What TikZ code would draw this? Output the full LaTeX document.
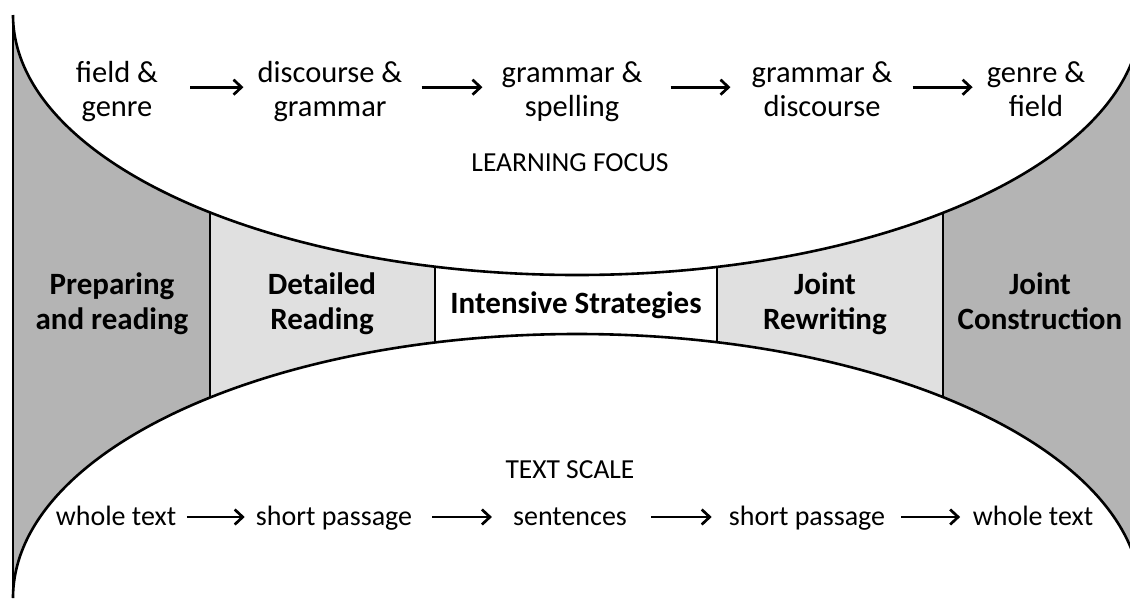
\documentclass[tikz,border=0pt]{standalone}
\usepackage{fontspec}
\setmainfont{Carlito}
\usetikzlibrary{arrows.meta}
\definecolor{darkbox}{RGB}{180,180,180}
\definecolor{lightbox}{RGB}{224,224,224}
\begin{document}
\begin{tikzpicture}[x=1pt,y=1pt,
  toplbl/.style={inner sep=0pt,align=center,font=\fontsize{30.5}{34}\selectfont},
  botlbl/.style={inner sep=0pt,align=center,font=\fontsize{28}{34}\selectfont},
  phase/.style={inner sep=0pt,align=center,font=\fontsize{31}{35}\selectfont\bfseries},
  caption/.style={inner sep=0pt,font=\fontsize{27.5}{30}\selectfont},
  flow/.style={line width=2.7pt,-{Straight Barb[length=8pt,width=15pt]}},
  curve/.style={line width=2.6pt},
  divider/.style={line width=1.2pt}]
\useasboundingbox (0,0) rectangle (1130,-598);
\begin{scope}
\clip (0,0) rectangle (1130,-598);
% stage bands
\fill[darkbox] (13,-15) rectangle (1140,-598);
\fill[lightbox] (210,-15) rectangle (943,-598);
\fill[white] (435,-15) rectangle (717,-598);
\draw[divider] (13,-15) -- (13,-598);
\foreach \xx in {210,435,717,943} \draw[divider] (\xx,-15) -- (\xx,-598);
% white ellipses
\fill[white] (577,-15) ellipse [x radius=564, y radius=260];
\fill[white] (577,-598) ellipse [x radius=564, y radius=264];
\fill[white] (0,0) rectangle (1130,-15);
\draw[curve] (13,-15) arc[start angle=180, end angle=360, x radius=564, y radius=260];
\draw[curve] (13,-598) arc[start angle=180, end angle=0, x radius=564, y radius=264];
\end{scope}
% learning focus row
\node[toplbl] (f1) at (117,-92.2) {field \&\strut\\genre\strut};
\node[toplbl] (f2) at (330,-92.2) {discourse \&\strut\\grammar\strut};
\node[toplbl] (f3) at (572,-92.2) {grammar \&\strut\\spelling\strut};
\node[toplbl] (f4) at (822,-92.2) {grammar \&\strut\\discourse\strut};
\node[toplbl] (f5) at (1036,-92.2) {genre \&\strut\\field\strut};
\draw[flow,shorten <=32pt,shorten >=14pt] ([yshift=5pt]f1.east) -- ([yshift=5pt]f2.west);
\draw[flow,shorten <=19pt,shorten >=19pt] ([yshift=5pt]f2.east) -- ([yshift=5pt]f3.west);
\draw[flow,shorten <=28pt,shorten >=21pt] ([yshift=5pt]f3.east) -- ([yshift=5pt]f4.west);
\draw[flow,shorten <=20pt,shorten >=14pt] ([yshift=5pt]f4.east) -- ([yshift=5pt]f5.west);
\node[caption] (lf) at (570,-165) {LEARNING FOCUS\strut};
% stages
\node[phase] (s1) at (112,-304.5) {Preparing\strut\\and reading\strut};
\node[phase] (s2) at (322,-304.5) {Detailed\strut\\Reading\strut};
\node[phase] (s3) at (576,-306) {Intensive Strategies\strut};
\node[phase] (s4) at (825,-304.5) {Joint\strut\\Rewriting\strut};
\node[phase] (s5) at (1040,-304.5) {Joint\strut\\Construction\strut};
% text scale row
\node[caption] (ts) at (570,-472) {TEXT SCALE\strut};
\node[botlbl] (t1) at (116,-519) {whole text\strut};
\node[botlbl] (t2) at (334,-519) {short passage\strut};
\node[botlbl] (t3) at (570,-519) {sentences\strut};
\node[botlbl] (t4) at (807,-519) {short passage\strut};
\node[botlbl] (t5) at (1033,-519) {whole text\strut};
\draw[flow,shorten <=10.5pt,shorten >=11pt] ([yshift=2pt]t1.east) -- ([yshift=2pt]t2.west);
\draw[flow,shorten <=20pt,shorten >=21pt] ([yshift=2pt]t2.east) -- ([yshift=2pt]t3.west);
\draw[flow,shorten <=24pt,shorten >=17pt] ([yshift=2pt]t3.east) -- ([yshift=2pt]t4.west);
\draw[flow,shorten <=16pt,shorten >=12.5pt] ([yshift=2pt]t4.east) -- ([yshift=2pt]t5.west);
\end{tikzpicture}
\end{document}
